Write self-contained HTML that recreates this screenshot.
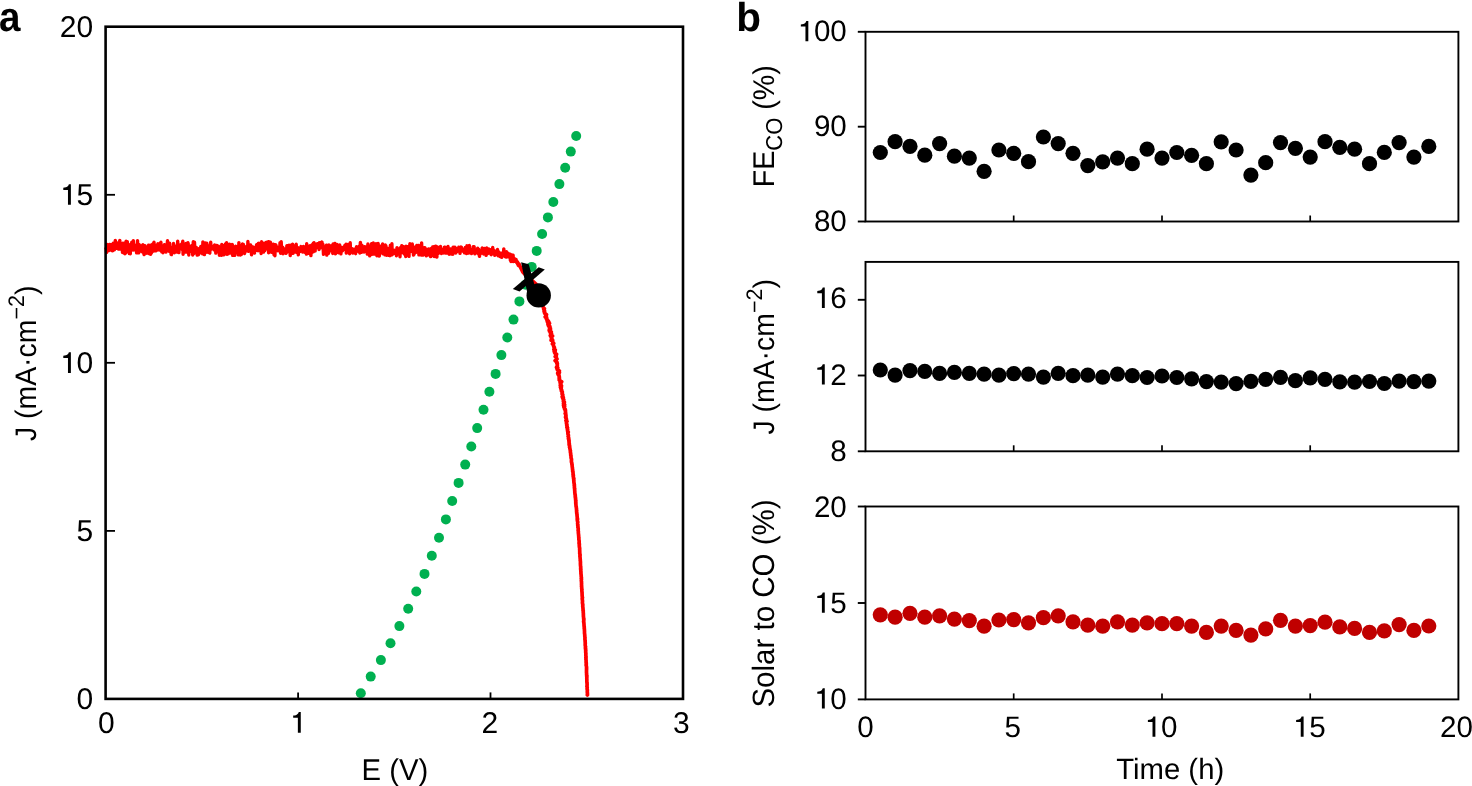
<!DOCTYPE html>
<html><head><meta charset="utf-8"><style>
html,body{margin:0;padding:0;background:#fff;width:1472px;height:786px;overflow:hidden}
svg{display:block;will-change:transform}
text{text-rendering:geometricPrecision}
.t{font-family:"Liberation Sans", sans-serif;font-size:30px;fill:#000}
.t2{font-family:"Liberation Sans", sans-serif;font-size:29px;fill:#000}
.lab{font-family:"Liberation Sans", sans-serif;font-size:42px;font-weight:bold;fill:#000}
</style></head><body>
<svg width="1472" height="786" viewBox="0 0 1472 786">
<rect width="1472" height="786" fill="#fff"/>
<polyline points="106.0,248.7 106.3,249.1 106.6,252.5 106.9,251.5 107.2,244.4 107.5,246.6 107.8,248.0 108.1,249.8 108.4,245.6 108.7,249.8 109.0,250.4 109.3,245.3 109.6,244.4 109.9,249.2 110.2,246.3 110.5,247.4 110.8,246.5 111.1,249.6 111.4,250.3 111.7,244.5 112.0,248.6 112.3,245.3 112.6,250.8 112.9,243.9 113.2,243.4 113.5,244.7 113.8,249.4 114.1,248.7 114.4,249.8 114.7,248.7 115.0,248.7 115.3,240.4 115.6,247.5 115.9,242.6 116.2,246.7 116.5,243.2 116.8,245.4 117.1,248.4 117.4,243.0 117.7,247.4 118.0,247.1 118.3,249.1 118.6,247.0 118.9,247.5 119.2,245.8 119.5,249.1 119.8,240.4 120.1,247.3 120.4,249.0 120.7,247.7 121.0,246.7 121.3,247.9 121.6,244.2 121.9,248.8 122.2,246.0 122.5,252.4 122.8,243.2 123.1,245.3 123.4,252.8 123.7,251.2 124.0,243.3 124.3,247.6 124.6,248.0 124.9,253.7 125.2,250.3 125.5,243.5 125.8,253.0 126.1,241.2 126.4,252.1 126.7,249.4 127.0,245.5 127.3,241.6 127.6,251.5 127.9,249.9 128.2,247.4 128.5,244.9 128.8,251.2 129.1,247.4 129.4,253.6 129.7,249.6 130.0,251.2 130.3,253.7 130.6,244.2 130.9,250.8 131.2,249.6 131.5,248.1 131.8,242.1 132.1,245.4 132.4,248.4 132.7,246.3 133.0,245.7 133.3,240.6 133.6,250.0 133.9,245.1 134.2,246.7 134.5,248.6 134.8,245.8 135.1,245.4 135.4,246.6 135.7,248.8 136.0,245.4 136.3,246.4 136.6,252.8 136.9,247.1 137.2,246.6 137.5,240.6 137.8,247.7 138.1,248.4 138.4,244.5 138.7,252.9 139.0,246.5 139.3,244.7 139.6,246.3 139.9,251.2 140.2,246.0 140.5,245.7 140.8,250.7 141.1,249.3 141.4,250.6 141.7,245.9 142.0,251.7 142.3,249.0 142.6,248.2 142.9,244.6 143.2,245.9 143.5,249.5 143.8,253.4 144.1,254.6 144.4,247.8 144.7,246.3 145.0,245.8 145.3,247.9 145.6,249.2 145.9,249.0 146.2,252.2 146.5,251.6 146.8,253.2 147.1,247.8 147.4,252.2 147.7,252.9 148.0,248.0 148.3,246.6 148.6,245.1 148.9,253.5 149.2,245.6 149.5,251.3 149.8,247.0 150.1,249.1 150.4,245.3 150.7,254.4 151.0,251.5 151.3,250.0 151.6,252.7 151.9,247.3 152.2,248.6 152.5,244.3 152.8,247.4 153.1,250.4 153.4,243.5 153.7,251.0 154.0,242.3 154.3,248.9 154.6,249.0 154.9,249.3 155.2,247.3 155.5,248.2 155.8,246.6 156.1,250.8 156.4,247.3 156.7,249.5 157.0,244.9 157.3,249.0 157.6,247.5 157.9,243.7 158.2,247.6 158.5,248.4 158.8,249.8 159.1,246.5 159.4,247.6 159.7,250.0 160.0,245.3 160.3,243.5 160.6,246.7 160.9,242.3 161.2,248.7 161.5,245.4 161.8,251.8 162.1,247.3 162.4,248.4 162.7,250.6 163.0,252.7 163.3,249.0 163.6,246.4 163.9,249.5 164.2,246.7 164.5,244.7 164.8,249.5 165.1,250.2 165.4,248.2 165.7,250.6 166.0,252.1 166.3,245.9 166.6,245.8 166.9,250.6 167.2,244.6 167.5,240.8 167.8,249.2 168.1,246.6 168.4,245.0 168.7,248.2 169.0,249.2 169.3,251.4 169.6,243.2 169.9,248.1 170.2,247.9 170.5,247.6 170.8,250.0 171.1,254.5 171.4,254.6 171.7,250.3 172.0,251.4 172.3,248.7 172.6,248.9 172.9,247.3 173.2,249.3 173.5,243.5 173.8,248.0 174.1,247.0 174.4,252.7 174.7,248.3 175.0,250.7 175.3,246.3 175.6,250.0 175.9,248.9 176.2,250.6 176.5,249.3 176.8,248.8 177.1,252.0 177.4,248.4 177.7,241.2 178.0,249.1 178.3,250.8 178.6,245.1 178.9,252.6 179.2,245.9 179.5,248.4 179.8,247.8 180.1,244.9 180.4,247.8 180.7,247.7 181.0,248.6 181.3,248.3 181.6,246.1 181.9,243.9 182.2,249.5 182.5,244.1 182.8,241.2 183.1,254.2 183.4,243.8 183.7,250.1 184.0,248.7 184.3,252.4 184.6,248.3 184.9,246.2 185.2,247.7 185.5,250.9 185.8,252.1 186.1,243.5 186.4,250.7 186.7,251.5 187.0,250.8 187.3,249.4 187.6,252.0 187.9,242.7 188.2,243.8 188.5,249.6 188.8,255.0 189.1,248.2 189.4,249.9 189.7,248.8 190.0,247.7 190.3,250.7 190.6,246.4 190.9,249.2 191.2,251.4 191.5,245.7 191.8,251.1 192.1,248.3 192.4,246.3 192.7,255.0 193.0,247.5 193.3,241.8 193.6,253.7 193.9,250.0 194.2,247.2 194.5,242.2 194.8,249.0 195.1,251.9 195.4,252.8 195.7,251.6 196.0,249.2 196.3,247.5 196.6,252.9 196.9,248.6 197.2,255.1 197.5,253.7 197.8,252.4 198.1,249.9 198.4,254.9 198.7,251.4 199.0,252.2 199.3,248.4 199.6,253.2 199.9,251.9 200.2,250.1 200.5,249.8 200.8,246.5 201.1,249.7 201.4,249.9 201.7,249.2 202.0,251.9 202.3,249.3 202.6,253.9 202.9,241.9 203.2,247.7 203.5,249.2 203.8,253.4 204.1,250.3 204.4,254.6 204.7,248.0 205.0,248.6 205.3,243.0 205.6,247.4 205.9,252.4 206.2,247.9 206.5,248.4 206.8,243.1 207.1,247.1 207.4,250.2 207.7,250.4 208.0,252.3 208.3,251.6 208.6,247.5 208.9,246.2 209.2,251.4 209.5,252.8 209.8,253.0 210.1,247.9 210.4,249.9 210.7,242.2 211.0,248.7 211.3,246.3 211.6,248.2 211.9,246.2 212.2,246.3 212.5,248.4 212.8,248.8 213.1,247.9 213.4,246.9 213.7,247.7 214.0,249.9 214.3,249.8 214.6,244.9 214.9,250.2 215.2,250.3 215.5,248.4 215.8,253.1 216.1,248.2 216.4,245.5 216.7,245.5 217.0,247.1 217.3,249.5 217.6,248.0 217.9,248.8 218.2,247.8 218.5,246.2 218.8,249.0 219.1,249.8 219.4,255.2 219.7,251.9 220.0,250.1 220.3,248.1 220.6,248.6 220.9,248.5 221.2,251.3 221.5,255.3 221.8,244.4 222.1,246.6 222.4,250.1 222.7,247.1 223.0,245.6 223.3,253.7 223.6,252.3 223.9,254.8 224.2,245.5 224.5,254.0 224.8,250.3 225.1,249.6 225.4,244.0 225.7,252.3 226.0,253.8 226.3,250.1 226.6,242.6 226.9,248.6 227.2,254.3 227.5,251.5 227.8,246.4 228.1,249.1 228.4,253.8 228.7,246.9 229.0,251.6 229.3,249.1 229.6,244.1 229.9,246.3 230.2,249.9 230.5,246.9 230.8,252.0 231.1,251.2 231.4,245.3 231.7,253.6 232.0,245.4 232.3,244.5 232.6,255.4 232.9,246.6 233.2,247.5 233.5,251.2 233.8,250.6 234.1,255.0 234.4,250.0 234.7,255.4 235.0,250.1 235.3,250.0 235.6,246.1 235.9,246.4 236.2,247.3 236.5,252.0 236.8,250.8 237.1,248.7 237.4,248.3 237.7,249.9 238.0,249.0 238.3,254.9 238.6,251.1 238.9,242.6 239.2,253.8 239.5,253.9 239.8,252.5 240.1,246.0 240.4,255.0 240.7,250.1 241.0,249.8 241.3,246.9 241.6,254.2 241.9,248.9 242.2,250.4 242.5,244.0 242.8,249.6 243.1,248.5 243.4,244.4 243.7,252.7 244.0,246.9 244.3,252.0 244.6,253.5 244.9,246.8 245.2,247.9 245.5,250.9 245.8,251.1 246.1,248.2 246.4,247.0 246.7,250.3 247.0,246.1 247.3,249.9 247.6,250.2 247.9,241.5 248.2,246.1 248.5,251.3 248.8,251.2 249.1,249.6 249.4,245.9 249.7,248.8 250.0,250.0 250.3,246.5 250.6,244.9 250.9,248.5 251.2,246.2 251.5,254.8 251.8,250.0 252.1,249.8 252.4,249.2 252.7,252.3 253.0,247.0 253.3,249.2 253.6,250.8 253.9,248.0 254.2,251.9 254.5,253.1 254.8,248.7 255.1,250.9 255.4,247.1 255.7,250.5 256.0,247.9 256.3,247.9 256.6,244.6 256.9,249.0 257.2,247.2 257.5,246.4 257.8,248.5 258.1,250.7 258.4,243.4 258.7,243.3 259.0,248.1 259.3,245.1 259.6,248.7 259.9,244.3 260.2,248.3 260.5,246.2 260.8,247.8 261.1,253.5 261.4,243.3 261.7,241.8 262.0,243.9 262.3,246.0 262.6,248.1 262.9,244.6 263.2,243.5 263.5,252.1 263.8,245.4 264.1,250.6 264.4,246.3 264.7,250.7 265.0,248.8 265.3,246.1 265.6,248.8 265.9,242.5 266.2,242.3 266.5,245.6 266.8,245.5 267.1,243.2 267.4,247.1 267.7,248.5 268.0,246.3 268.3,241.7 268.6,252.7 268.9,241.7 269.2,249.1 269.5,252.0 269.8,251.4 270.1,247.8 270.4,242.2 270.7,250.6 271.0,251.7 271.3,245.8 271.6,247.0 271.9,252.3 272.2,246.8 272.5,248.8 272.8,249.0 273.1,246.4 273.4,244.1 273.7,245.4 274.0,254.7 274.3,250.3 274.6,247.5 274.9,255.7 275.2,248.2 275.5,244.8 275.8,244.9 276.1,246.7 276.4,250.7 276.7,247.4 277.0,246.9 277.3,247.3 277.6,248.8 277.9,250.8 278.2,248.9 278.5,249.3 278.8,249.4 279.1,247.4 279.4,249.3 279.7,250.7 280.0,242.8 280.3,249.6 280.6,253.2 280.9,246.5 281.2,241.8 281.5,248.9 281.8,248.3 282.1,250.8 282.4,247.1 282.7,247.1 283.0,253.7 283.3,252.0 283.6,248.4 283.9,251.8 284.2,252.9 284.5,251.6 284.8,249.9 285.1,252.0 285.4,252.6 285.7,250.9 286.0,253.3 286.3,252.8 286.6,249.4 286.9,245.6 287.2,250.8 287.5,250.0 287.8,246.6 288.1,248.5 288.4,246.4 288.7,251.6 289.0,245.2 289.3,251.2 289.6,249.0 289.9,248.3 290.2,255.5 290.5,251.8 290.8,245.2 291.1,248.2 291.4,252.2 291.7,251.0 292.0,252.5 292.3,249.5 292.6,244.1 292.9,246.7 293.2,253.3 293.5,251.3 293.8,250.7 294.1,250.9 294.4,249.2 294.7,246.8 295.0,249.4 295.3,245.8 295.6,251.9 295.9,252.1 296.2,244.3 296.5,249.8 296.8,248.8 297.1,247.2 297.4,249.2 297.7,252.0 298.0,247.7 298.3,254.9 298.6,251.9 298.9,251.4 299.2,248.3 299.5,249.5 299.8,250.6 300.1,250.7 300.4,251.2 300.7,247.8 301.0,246.6 301.3,249.2 301.6,248.4 301.9,247.0 302.2,247.4 302.5,248.3 302.8,252.1 303.1,249.7 303.4,246.4 303.7,248.0 304.0,251.0 304.3,247.4 304.6,249.6 304.9,252.4 305.2,246.7 305.5,247.1 305.8,247.3 306.1,250.2 306.4,254.1 306.7,243.8 307.0,253.0 307.3,246.0 307.6,250.5 307.9,253.4 308.2,246.2 308.5,252.2 308.8,251.1 309.1,247.5 309.4,248.8 309.7,250.1 310.0,245.6 310.3,254.0 310.6,248.2 310.9,255.6 311.2,248.6 311.5,247.4 311.8,252.5 312.1,244.8 312.4,249.1 312.7,249.0 313.0,251.9 313.3,243.2 313.6,251.5 313.9,242.6 314.2,244.2 314.5,250.6 314.8,250.1 315.1,251.0 315.4,247.3 315.7,246.6 316.0,245.8 316.3,247.0 316.6,243.9 316.9,247.4 317.2,244.8 317.5,243.7 317.8,246.2 318.1,244.2 318.4,246.9 318.7,244.8 319.0,249.5 319.3,242.8 319.6,247.1 319.9,244.1 320.2,248.1 320.5,245.3 320.8,247.3 321.1,242.5 321.4,244.2 321.7,243.4 322.0,242.1 322.3,245.8 322.6,244.5 322.9,244.4 323.2,248.6 323.5,254.3 323.8,246.6 324.1,248.9 324.4,251.2 324.7,249.3 325.0,248.3 325.3,248.9 325.6,249.0 325.9,250.2 326.2,246.4 326.5,245.2 326.8,255.1 327.1,251.4 327.4,246.1 327.7,246.6 328.0,246.7 328.3,250.7 328.6,253.2 328.9,244.9 329.2,248.8 329.5,246.1 329.8,250.8 330.1,248.3 330.4,250.2 330.7,245.9 331.0,245.9 331.3,247.5 331.6,249.9 331.9,251.4 332.2,246.8 332.5,252.0 332.8,253.4 333.1,244.0 333.4,247.5 333.7,247.5 334.0,247.8 334.3,247.3 334.6,244.5 334.9,243.5 335.2,245.3 335.5,253.8 335.8,246.3 336.1,246.0 336.4,246.8 336.7,248.1 337.0,244.5 337.3,246.5 337.6,245.8 337.9,248.2 338.2,250.5 338.5,252.8 338.8,246.2 339.1,250.2 339.4,251.7 339.7,245.0 340.0,252.7 340.3,248.4 340.6,248.5 340.9,253.9 341.2,247.6 341.5,247.2 341.8,247.9 342.1,250.6 342.4,250.9 342.7,249.4 343.0,249.2 343.3,248.9 343.6,247.6 343.9,248.6 344.2,249.1 344.5,248.7 344.8,245.4 345.1,246.7 345.4,249.1 345.7,246.7 346.0,244.2 346.3,253.1 346.6,246.1 346.9,246.6 347.2,247.7 347.5,249.5 347.8,244.5 348.1,245.0 348.4,248.7 348.7,248.1 349.0,251.5 349.3,249.4 349.6,253.7 349.9,249.6 350.2,242.8 350.5,251.4 350.8,248.1 351.1,250.6 351.4,248.7 351.7,249.3 352.0,249.5 352.3,248.8 352.6,249.6 352.9,253.0 353.2,250.9 353.5,250.8 353.8,252.9 354.1,249.1 354.4,251.2 354.7,249.4 355.0,251.1 355.3,253.2 355.6,253.6 355.9,249.2 356.2,250.0 356.5,246.8 356.8,248.2 357.1,248.3 357.4,250.6 357.7,247.1 358.0,248.1 358.3,249.4 358.6,251.5 358.9,251.4 359.2,246.2 359.5,247.8 359.8,253.0 360.1,247.6 360.4,242.4 360.7,250.3 361.0,247.2 361.3,247.2 361.6,252.2 361.9,245.2 362.2,250.8 362.5,246.4 362.8,248.1 363.1,247.0 363.4,251.5 363.7,250.1 364.0,252.1 364.3,246.6 364.6,246.8 364.9,249.2 365.2,249.4 365.5,248.3 365.8,247.1 366.1,248.9 366.4,249.9 366.7,247.1 367.0,248.3 367.3,254.1 367.6,248.6 367.9,244.0 368.2,251.3 368.5,249.5 368.8,248.0 369.1,251.0 369.4,252.3 369.7,255.9 370.0,253.7 370.3,246.7 370.6,247.2 370.9,252.1 371.2,247.8 371.5,243.8 371.8,254.3 372.1,248.4 372.4,251.3 372.7,249.0 373.0,251.1 373.3,243.0 373.6,251.0 373.9,247.6 374.2,254.1 374.5,245.1 374.8,253.2 375.1,248.0 375.4,247.1 375.7,252.4 376.0,243.7 376.3,252.8 376.6,250.7 376.9,255.7 377.2,248.6 377.5,248.4 377.8,246.7 378.1,243.4 378.4,249.1 378.7,246.8 379.0,252.5 379.3,256.0 379.6,253.3 379.9,249.4 380.2,246.1 380.5,247.9 380.8,251.1 381.1,252.4 381.4,252.8 381.7,249.2 382.0,252.8 382.3,248.1 382.6,244.0 382.9,246.5 383.2,253.9 383.5,248.8 383.8,248.9 384.1,249.9 384.4,251.5 384.7,248.4 385.0,254.8 385.3,244.9 385.6,250.8 385.9,245.8 386.2,250.0 386.5,255.2 386.8,255.1 387.1,252.8 387.4,249.2 387.7,248.3 388.0,248.9 388.3,253.8 388.6,255.4 388.9,250.7 389.2,250.0 389.5,254.2 389.8,254.3 390.1,255.7 390.4,245.1 390.7,250.3 391.0,248.2 391.3,249.4 391.6,250.9 391.9,243.8 392.2,254.7 392.5,252.8 392.8,249.9 393.1,250.4 393.4,253.4 393.7,252.0 394.0,253.3 394.3,251.9 394.6,250.3 394.9,251.1 395.2,253.0 395.5,251.2 395.8,252.4 396.1,251.9 396.4,255.7 396.7,253.6 397.0,247.6 397.3,253.5 397.6,249.0 397.9,251.8 398.2,249.2 398.5,252.0 398.8,249.2 399.1,253.9 399.4,249.3 399.7,250.8 400.0,256.7 400.3,247.7 400.6,252.7 400.9,250.1 401.2,248.8 401.5,248.0 401.8,245.7 402.1,252.1 402.4,250.0 402.7,252.6 403.0,248.0 403.3,253.0 403.6,248.4 403.9,246.8 404.2,248.8 404.5,254.1 404.8,251.6 405.1,250.7 405.4,248.7 405.7,256.5 406.0,246.3 406.3,252.6 406.6,250.8 406.9,253.3 407.2,251.9 407.5,251.7 407.8,248.7 408.1,246.8 408.4,250.5 408.7,251.7 409.0,256.4 409.3,246.6 409.6,250.6 409.9,243.7 410.2,250.4 410.5,247.8 410.8,251.0 411.1,248.4 411.4,245.9 411.7,245.4 412.0,251.4 412.3,244.0 412.6,248.1 412.9,249.2 413.2,251.5 413.5,255.0 413.8,248.8 414.1,254.3 414.4,247.3 414.7,250.5 415.0,249.8 415.3,252.7 415.6,247.3 415.9,252.3 416.2,247.8 416.5,246.6 416.8,245.4 417.1,248.1 417.4,250.7 417.7,251.9 418.0,248.9 418.3,247.6 418.6,245.5 418.9,254.9 419.2,248.7 419.5,252.9 419.8,251.9 420.1,247.6 420.4,254.7 420.7,254.3 421.0,249.7 421.3,255.0 421.6,242.9 421.9,251.1 422.2,254.1 422.5,251.2 422.8,248.8 423.1,255.1 423.4,249.4 423.7,254.4 424.0,250.0 424.3,247.8 424.6,251.7 424.9,247.7 425.2,250.9 425.5,250.9 425.8,250.6 426.1,251.8 426.4,255.9 426.7,253.1 427.0,249.5 427.3,251.2 427.6,253.7 427.9,249.7 428.2,249.4 428.5,250.2 428.8,248.9 429.1,255.0 429.4,251.4 429.7,251.5 430.0,250.7 430.3,251.8 430.6,256.6 430.9,250.4 431.2,250.6 431.5,248.2 431.8,255.7 432.1,252.9 432.4,248.7 432.7,247.0 433.0,249.5 433.3,251.8 433.6,252.9 433.9,246.8 434.2,256.5 434.5,251.9 434.8,250.5 435.1,248.7 435.4,246.3 435.7,256.5 436.0,246.8 436.3,246.6 436.6,253.4 436.9,257.0 437.2,249.6 437.5,249.2 437.8,247.3 438.1,253.5 438.4,249.7 438.7,249.4 439.0,250.2 439.3,249.5 439.6,251.6 439.9,248.9 440.2,252.5 440.5,246.5 440.8,250.8 441.1,249.0 441.4,253.5 441.7,249.7 442.0,251.5 442.3,250.4 442.6,250.6 442.9,250.6 443.2,251.7 443.5,252.9 443.8,249.5 444.1,251.5 444.4,247.3 444.7,252.1 445.0,248.3 445.3,247.3 445.6,253.1 445.9,248.0 446.2,247.7 446.5,253.1 446.8,251.7 447.1,252.1 447.4,247.9 447.7,249.9 448.0,246.5 448.3,251.0 448.6,253.3 448.9,250.5 449.2,254.2 449.5,250.5 449.8,250.5 450.1,250.3 450.4,251.1 450.7,248.9 451.0,253.3 451.3,254.0 451.6,253.5 451.9,252.4 452.2,249.2 452.5,248.8 452.8,254.2 453.1,247.3 453.4,248.6 453.7,248.2 454.0,249.2 454.3,250.8 454.6,250.8 454.9,247.2 455.2,251.1 455.5,252.1 455.8,253.0 456.1,249.8 456.4,251.4 456.7,248.7 457.0,251.5 457.3,250.1 457.6,248.9 457.9,249.0 458.2,249.1 458.5,249.2 458.8,247.2 459.1,251.1 459.4,250.2 459.7,249.2 460.0,253.4 460.3,249.2 460.6,247.9 460.9,248.5 461.2,247.1 461.5,247.3 461.8,250.6 462.1,248.7 462.4,250.8 462.7,249.8 463.0,249.6 463.3,250.4 463.6,251.4 463.9,250.9 464.2,251.2 464.5,252.9 464.8,252.3 465.1,249.1 465.4,247.4 465.7,250.1 466.0,247.9 466.3,251.1 466.6,253.5 466.9,245.7 467.2,250.0 467.5,251.7 467.8,248.2 468.1,251.9 468.4,253.0 468.7,250.6 469.0,251.5 469.3,245.5 469.6,249.1 469.9,249.7 470.2,251.0 470.5,249.6 470.8,252.9 471.1,251.3 471.4,253.6 471.7,250.8 472.0,253.3 472.3,250.8 472.6,251.3 472.9,252.4 473.2,246.6 473.5,249.7 473.8,249.7 474.1,246.7 474.4,251.4 474.7,251.4 475.0,253.8 475.3,250.4 475.6,252.2 475.9,251.6 476.2,251.1 476.5,251.1 476.8,250.7 477.1,249.7 477.4,251.3 477.7,248.2 478.0,252.8 478.3,253.6 478.6,249.1 478.9,252.4 479.2,255.3 479.5,256.3 479.8,252.6 480.1,251.3 480.4,253.7 480.7,253.3 481.0,253.2 481.3,252.1 481.6,251.9 481.9,251.7 482.2,248.0 482.5,250.2 482.8,252.2 483.1,248.9 483.4,249.2 483.7,254.0 484.0,252.5 484.3,251.5 484.6,248.5 484.9,253.1 485.2,251.1 485.5,249.0 485.8,249.5 486.1,255.3 486.4,251.3 486.7,247.9 487.0,252.6 487.3,253.4 487.6,251.3 487.9,253.5 488.2,252.7 488.5,251.9 488.8,248.9 489.1,250.8 489.4,252.5 489.7,249.9 490.0,249.5 490.3,250.5 490.6,251.3 490.9,254.3 491.2,254.6 491.5,251.4 491.8,251.3 492.1,253.5 492.4,252.7 492.7,247.5 493.0,253.6 493.3,249.6 493.6,253.1 493.9,254.1 494.2,250.8 494.5,250.9 494.8,255.3 495.1,251.4 495.4,251.9 495.7,253.1 496.0,253.5 496.3,251.9 496.6,252.5 496.9,254.0 497.2,253.7 497.5,249.5 497.8,253.9 498.1,255.8 498.4,252.3 498.7,251.9 499.0,253.2 499.3,252.7 499.6,255.8 499.9,255.0 500.2,256.6 500.5,255.4 500.8,254.6 501.1,255.3 501.4,253.1 501.7,257.4 502.0,255.4 502.3,255.1 502.6,253.1 502.9,255.6 503.2,256.0 503.5,254.1 503.8,248.9 504.1,254.4 504.4,255.0 504.7,255.0 505.0,254.9 505.3,256.7 505.6,255.4 505.9,256.0 506.2,257.1 506.5,251.6 506.8,254.9 507.1,252.8 507.4,256.7 507.7,256.0 508.0,253.3 508.3,255.9 508.6,256.6 508.9,255.4 509.2,257.1 509.5,256.4 509.8,256.3 510.1,254.1 510.4,260.4 510.7,256.9 511.0,261.5 511.3,257.2 511.6,254.9 511.9,260.9 512.2,255.5 512.5,257.4 512.8,257.5 513.1,255.3 513.4,261.6 513.7,259.5 514.0,258.1 514.3,260.7 514.6,259.6 514.9,261.4 515.2,260.0 515.5,261.5 515.8,261.7 516.1,259.5 516.4,261.4 516.7,262.6 517.0,262.5 517.3,263.5 517.6,262.0 517.9,264.7 518.2,264.0 518.5,265.6 518.8,265.4 519.1,264.0 519.4,264.8" fill="none" stroke="#ff0000" stroke-width="3.4" stroke-linejoin="round" stroke-linecap="round"/>
<polyline points="519.6,265.5 522.8,272.0 527.0,276.5 531.0,279.5 536.0,284.2 539.5,293.0 541.5,302.0 543.5,308.0 544.4,308.5 543.7,309.1 543.8,309.7 544.5,310.3 544.5,310.9 544.1,311.5 544.7,312.1 544.5,312.7 544.7,313.3 545.5,313.9 546.5,314.5 545.9,315.1 546.3,315.7 546.1,316.3 545.2,316.9 546.6,317.5 546.2,318.1 546.4,318.7 546.5,319.3 547.5,319.9 547.2,320.5 548.4,321.1 547.3,321.7 548.9,322.3 547.8,322.9 549.5,323.5 548.3,324.1 548.0,324.7 549.1,325.3 548.6,325.9 549.9,326.5 550.0,327.1 549.4,327.7 550.4,328.3 549.9,328.9 550.4,329.5 549.2,330.1 549.6,330.7 549.5,331.3 551.3,331.9 550.4,332.5 550.4,333.1 551.5,333.7 551.2,334.3 550.6,334.9 550.3,335.5 552.6,336.1 551.8,336.7 551.1,337.3 551.4,337.9 551.7,338.5 551.9,339.1 552.5,339.7 551.1,340.3 552.8,340.9 552.7,341.5 552.8,342.1 553.1,342.7 553.7,343.3 552.4,343.9 553.1,344.5 553.4,345.1 553.6,345.7 553.6,346.3 553.9,346.9 554.4,347.5 554.4,348.1 554.3,348.7 553.9,349.3 555.3,349.9 554.8,350.5 554.2,351.1 555.1,351.7 554.5,352.3 554.8,352.9 555.2,353.5 556.6,354.1 555.7,354.7 556.1,355.3 556.3,355.9 555.2,356.5 556.3,357.1 556.3,357.7 556.5,358.3 557.0,358.9 556.0,359.5 556.2,360.1 555.1,360.7 555.9,361.3 556.7,361.9 557.1,362.5 556.8,363.1 557.4,363.7 557.2,364.3 557.3,364.9 557.3,365.5 557.4,366.1 556.8,366.7 556.5,367.3 557.8,367.9 556.9,368.5 557.1,369.1 557.3,369.7 558.1,370.3 559.4,370.9 558.3,371.5 558.6,372.1 559.4,372.7 557.7,373.3 558.9,373.9 558.1,374.5 558.9,375.1 558.9,375.7 559.3,376.3 559.2,376.9 559.4,377.5 559.1,378.1 559.5,378.7 559.5,379.3 559.2,379.9 560.0,380.5 560.3,381.1 561.7,381.7 560.1,382.3 560.5,382.9 560.3,383.5 561.0,384.1 560.8,384.7 560.3,385.3 561.5,385.9 560.6,386.5 560.4,387.1 561.3,387.7 560.8,388.3 561.0,388.9 561.4,389.5 561.7,390.1 561.3,390.7 561.7,391.3 562.3,391.9 562.1,392.5 562.4,393.1 562.0,393.7 562.1,394.3 562.8,394.9 562.6,395.5 562.8,396.1 562.2,396.7 563.3,397.3 562.6,397.9 562.8,398.5 563.3,399.1 563.8,399.7 563.7,400.3 563.3,400.9 563.4,401.5 564.4,402.1 564.1,402.7 563.5,403.3 564.0,403.9 564.6,404.5 563.5,405.1 563.8,405.7 564.6,406.3 563.8,406.9 564.4,407.5 564.5,408.1 564.4,408.7 565.3,409.3 565.0,409.9 565.5,410.5 565.4,411.1 565.5,411.7 565.6,412.3 565.6,412.9 565.2,413.5 565.8,414.1 565.7,414.7 566.0,415.3 565.8,415.9 566.0,416.5 565.5,417.1 565.7,417.7 566.3,418.3 566.3,418.9 566.5,419.5 566.1,420.1 565.9,420.7 567.0,421.3 566.6,421.9 566.4,422.5 566.4,423.1 566.7,423.7 566.6,424.3 567.0,424.9 566.7,425.5 566.9,426.1 567.2,426.7 566.9,427.3 567.6,427.9 567.3,428.5 567.3,429.1 567.7,429.7 567.5,430.3 567.6,430.9 567.7,431.5 568.3,432.1 567.8,432.7 568.0,433.3 567.9,433.9 568.2,434.5 568.4,435.1 568.4,435.7 568.1,436.3 568.4,436.9 568.6,437.5 568.7,438.1 568.4,438.7 568.9,439.3 568.8,439.9 569.1,440.5 568.9,441.1 569.1,441.7 569.1,442.3 569.0,442.9 569.3,443.5 569.3,444.1 569.1,444.7 569.5,445.3 569.6,445.9 569.7,446.5 569.5,447.1 569.8,447.7 569.8,448.3 570.0,448.9 570.1,449.5 570.2,450.1 570.4,450.7 570.4,451.3 570.3,451.9 570.5,452.5 570.6,453.1 570.7,453.7 570.7,454.3 570.7,454.9 571.0,455.5 571.0,456.1 571.0,456.7 571.0,457.3 571.1,457.9 571.2,458.5 571.5,459.1 571.5,459.7 571.4,460.3 571.5,460.9 571.4,461.5 571.5,462.1 571.7,462.7 571.9,463.3 571.8,463.9 572.1,464.5 572.1,465.1 572.1,465.7 572.2,466.3 572.2,466.9 572.4,467.5 572.4,468.1 572.5,468.7 572.5,469.3 572.7,469.9 572.7,470.5 572.6,471.1 573.0,471.7 573.0,472.3 573.0,472.9 573.1,473.5 573.1,474.1 573.0,474.7 573.4,475.3 573.3,475.9 573.2,476.5 573.4,477.1 573.6,477.7 573.5,478.3 573.9,478.9 573.7,479.5 573.7,480.1 573.9,480.7 573.9,481.3 573.8,481.9 574.0,482.5 574.0,483.1 574.2,483.7 574.2,484.3 574.4,484.9 574.2,485.5 574.4,486.1 574.4,486.7 574.4,487.3 574.4,487.9 574.7,488.5 574.7,489.1 574.6,489.7 574.7,490.3 574.7,490.9 574.8,491.5 574.8,492.1 574.8,492.7 574.9,493.3 575.0,493.9 575.0,494.5 575.3,495.1 575.2,495.7 575.2,496.3 575.4,496.9 575.3,497.5 575.6,498.1 575.5,498.7 575.6,499.3 575.6,499.9 575.9,500.5 575.7,501.1 575.8,501.7 575.9,502.3 575.7,502.9 575.9,503.5 575.9,504.1 575.9,504.7 576.0,505.3 576.0,505.9 576.1,506.5 576.3,507.1 576.3,507.7 576.4,508.3 576.5,508.9 576.5,509.5 576.5,510.1 576.7,510.7 576.6,511.3 576.6,511.9 576.8,512.5 576.7,513.1 576.9,513.7 576.9,514.3 577.1,514.9 577.0,515.5 577.1,516.1 577.2,516.7 577.2,517.3 577.3,517.9 577.2,518.5 577.6,519.1 577.2,519.7 577.4,520.3 577.4,520.9 577.6,521.5 577.8,522.1 577.7,522.7 577.6,523.3 577.7,523.9 577.9,524.5 577.7,525.1 577.9,525.7 578.0,526.3 577.9,526.9 577.9,527.5 578.2,528.1 578.2,528.7 578.2,529.3 578.2,529.9 578.1,530.5 578.3,531.1 578.4,531.7 578.3,532.3 578.4,532.9 578.4,533.5 578.5,534.1 578.6,534.7 578.6,535.3 578.7,535.9 578.7,536.5 578.7,537.1 578.9,537.7 578.9,538.3 578.8,538.9 578.9,539.5 579.0,540.1 579.1,540.7 579.2,541.3 579.1,541.9 579.2,542.5 579.0,543.1 579.3,543.7 579.4,544.3 579.2,544.9 579.3,545.5 579.4,546.1 579.3,546.7 579.5,547.3 579.6,547.9 579.7,548.5 579.6,549.1 579.7,549.7 579.7,550.3 579.7,550.9 579.7,551.5 579.8,552.1 579.7,552.7 579.7,553.3 579.9,553.9 580.1,554.5 579.9,555.1 580.1,555.7 579.9,556.3 580.0,556.9 580.1,557.5 580.1,558.1 580.2,558.7 580.2,559.3 580.3,559.9 580.2,560.5 580.4,561.1 580.4,561.7 580.4,562.3 580.5,562.9 580.4,563.5 580.4,564.1 580.5,564.7 580.5,565.3 580.5,565.9 580.7,566.5 580.7,567.1 580.7,567.7 580.8,568.3 580.6,568.9 580.9,569.5 580.8,570.1 580.8,570.7 580.8,571.3 581.0,571.9 580.9,572.5 581.0,573.1 580.9,573.7 581.1,574.3 581.1,574.9 581.2,575.5 581.2,576.1 581.2,576.7 581.4,577.3 581.4,577.9 581.2,578.5 581.5,579.1 581.4,579.7 581.3,580.3 581.3,580.9 581.5,581.5 581.5,582.1 581.5,582.7 581.6,583.3 581.5,583.9 581.5,584.5 581.6,585.1 581.6,585.7 581.5,586.3 581.7,586.9 581.7,587.5 581.7,588.1 581.7,588.7 582.0,589.3 581.9,589.9 581.8,590.5 581.9,591.1 581.9,591.7 582.1,592.3 582.0,592.9 582.1,593.5 582.1,594.1 582.1,594.7 582.1,595.3 582.2,595.9 582.2,596.5 582.3,597.1 582.5,597.7 582.2,598.3 582.2,598.9 582.3,599.5 582.4,600.1 582.5,600.7 582.5,601.3 582.5,601.9 582.4,602.5 582.5,603.1 582.5,603.7 582.8,604.3 582.8,604.9 582.8,605.5 582.7,606.1 582.8,606.7 582.9,607.3 582.9,607.9 583.0,608.5 583.0,609.1 583.1,609.7 583.0,610.3 583.3,610.9 583.2,611.5 583.2,612.1 583.3,612.7 583.4,613.3 583.3,613.9 583.4,614.5 583.4,615.1 583.4,615.7 583.4,616.3 583.5,616.9 583.6,617.5 583.6,618.1 583.7,618.7 583.9,619.3 583.7,619.9 583.8,620.5 583.8,621.1 583.6,621.7 583.8,622.3 583.9,622.9 583.9,623.5 584.0,624.1 584.0,624.7 584.0,625.3 584.1,625.9 584.1,626.5 584.3,627.1 584.2,627.7 584.2,628.3 584.4,628.9 584.4,629.5 584.4,630.1 584.5,630.7 584.5,631.3 584.5,631.9 584.5,632.5 584.5,633.1 584.6,633.7 584.7,634.3 584.7,634.9 584.8,635.5 584.8,636.1 584.8,636.7 585.0,637.3 585.0,637.9 584.9,638.5 585.0,639.1 584.9,639.7 585.1,640.3 585.2,640.9 585.1,641.5 585.2,642.1 585.2,642.7 585.3,643.3 585.2,643.9 585.2,644.5 585.2,645.1 585.3,645.7 585.4,646.3 585.6,646.9 585.4,647.5 585.4,648.1 585.5,648.7 585.7,649.3 585.6,649.9 585.8,650.5 585.7,651.1 585.7,651.7 585.7,652.3 585.8,652.9 585.9,653.5 585.9,654.1 585.8,654.7 585.8,655.3 585.9,655.9 586.0,656.5 586.1,657.1 585.8,657.7 586.0,658.3 586.0,658.9 585.9,659.5 586.1,660.1 586.1,660.7 586.1,661.3 586.1,661.9 586.1,662.5 586.3,663.1 586.2,663.7 586.3,664.3 586.1,664.9 586.2,665.5 586.4,666.1 586.5,666.7 586.5,667.3 586.6,667.9 586.5,668.5 586.6,669.1 586.5,669.7 586.5,670.3 586.5,670.9 586.5,671.5 586.5,672.1 586.5,672.7 586.6,673.3 586.6,673.9 586.6,674.5 586.6,675.1 586.9,675.7 586.7,676.3 586.9,676.9 586.8,677.5 586.8,678.1 586.8,678.7 586.8,679.3 586.9,679.9 586.8,680.5 586.9,681.1 586.8,681.7 586.9,682.3 587.1,682.9 587.0,683.5 587.1,684.1 587.1,684.7 587.1,685.3 587.0,685.9 586.9,686.5 587.2,687.1 587.2,687.7 587.1,688.3 587.1,688.9 587.2,689.5 587.4,690.1 587.3,690.7 587.3,691.3 587.3,691.9 587.3,692.5 587.5,693.1 587.4,693.7 587.5,694.3 587.3,694.9 587.4,695.0" fill="none" stroke="#ff0000" stroke-width="3.7" stroke-linejoin="round" stroke-linecap="round"/>
<circle cx="360.8" cy="693.2" r="5" fill="#00b050"/>
<circle cx="370.7" cy="676.6" r="5" fill="#00b050"/>
<circle cx="380.9" cy="660.1" r="5" fill="#00b050"/>
<circle cx="390.5" cy="643.3" r="5" fill="#00b050"/>
<circle cx="399.4" cy="626.1" r="5" fill="#00b050"/>
<circle cx="408.2" cy="608.8" r="5" fill="#00b050"/>
<circle cx="416.3" cy="591.5" r="5" fill="#00b050"/>
<circle cx="424.5" cy="573.9" r="5" fill="#00b050"/>
<circle cx="431.8" cy="555.8" r="5" fill="#00b050"/>
<circle cx="439.0" cy="537.7" r="5" fill="#00b050"/>
<circle cx="445.9" cy="519.4" r="5" fill="#00b050"/>
<circle cx="452.2" cy="501.0" r="5" fill="#00b050"/>
<circle cx="458.6" cy="482.9" r="5" fill="#00b050"/>
<circle cx="465.2" cy="464.6" r="5" fill="#00b050"/>
<circle cx="471.3" cy="446.5" r="5" fill="#00b050"/>
<circle cx="477.2" cy="428.1" r="5" fill="#00b050"/>
<circle cx="483.5" cy="409.7" r="5" fill="#00b050"/>
<circle cx="489.4" cy="391.8" r="5" fill="#00b050"/>
<circle cx="495.6" cy="373.9" r="5" fill="#00b050"/>
<circle cx="501.4" cy="355.1" r="5" fill="#00b050"/>
<circle cx="507.3" cy="337.5" r="5" fill="#00b050"/>
<circle cx="513.5" cy="319.6" r="5" fill="#00b050"/>
<circle cx="519.4" cy="301.4" r="5" fill="#00b050"/>
<circle cx="525.5" cy="284.8" r="5" fill="#00b050"/>
<circle cx="531.7" cy="266.9" r="5" fill="#00b050"/>
<circle cx="536.7" cy="250.9" r="5" fill="#00b050"/>
<circle cx="542.1" cy="234.0" r="5" fill="#00b050"/>
<circle cx="547.9" cy="217.4" r="5" fill="#00b050"/>
<circle cx="553.3" cy="202.0" r="5" fill="#00b050"/>
<circle cx="559.4" cy="184.1" r="5" fill="#00b050"/>
<circle cx="565.2" cy="167.8" r="5" fill="#00b050"/>
<circle cx="570.8" cy="151.6" r="5" fill="#00b050"/>
<circle cx="576.2" cy="136.0" r="5" fill="#00b050"/>
<polygon points="521.1,262.3 528.7,264.2 536.5,292 527.4,293.5" fill="#000"/>
<polygon points="538.7,267.3 544.8,269.5 519.5,291.6 512.8,289" fill="#000"/>
<circle cx="538.7" cy="295.4" r="12.2" fill="#000"/>
<rect x="105.6" y="26.7" width="577.4" height="672.2" fill="none" stroke="#000" stroke-width="2.6"/>
<line x1="298.1" y1="698.9" x2="298.1" y2="692.4" stroke="#000" stroke-width="1.8"/>
<line x1="490.5" y1="698.9" x2="490.5" y2="692.4" stroke="#000" stroke-width="1.8"/>
<line x1="105.6" y1="530.9" x2="115.0" y2="530.9" stroke="#000" stroke-width="1.8"/>
<line x1="105.6" y1="362.8" x2="115.0" y2="362.8" stroke="#000" stroke-width="1.8"/>
<line x1="105.6" y1="194.8" x2="115.0" y2="194.8" stroke="#000" stroke-width="1.8"/>
<text x="76.52" y="709.00" style="font-size:30.0px" class="t">0</text>
<text x="76.52" y="540.95" style="font-size:30.0px" class="t">5</text>
<path d="M271,0 L368,0 L368,687 L300,687 C292,650 262,600 205,585 C170,576 140,572 115,570 L115,497 L271,497 Z" transform="translate(59.84,372.90) scale(0.03000,-0.03000)" fill="#000"/><text x="76.52" y="372.90" style="font-size:30.0px" class="t">0</text>
<path d="M271,0 L368,0 L368,687 L300,687 C292,650 262,600 205,585 C170,576 140,572 115,570 L115,497 L271,497 Z" transform="translate(59.84,204.85) scale(0.03000,-0.03000)" fill="#000"/><text x="76.52" y="204.85" style="font-size:30.0px" class="t">5</text>
<text x="59.84" y="36.80" style="font-size:30.0px" class="t">2</text><text x="76.52" y="36.80" style="font-size:30.0px" class="t">0</text>
<text x="98.06" y="732.70" style="font-size:30.0px" class="t">0</text>
<path d="M271,0 L368,0 L368,687 L300,687 C292,650 262,600 205,585 C170,576 140,572 115,570 L115,497 L271,497 Z" transform="translate(289.73,732.70) scale(0.03000,-0.03000)" fill="#000"/>
<text x="481.39" y="732.70" style="font-size:30.0px" class="t">2</text>
<text x="673.06" y="732.70" style="font-size:30.0px" class="t">3</text>
<text transform="translate(394.9,779.6) scale(1,1.025)" text-anchor="middle" style="font-size:29.3px" class="t">E (V)</text>
<text transform="translate(36.3,363.3) rotate(-90) scale(1,1.045)" text-anchor="middle" style="font-size:28.4px" class="t">J (mA·cm<tspan dy="-12" style="font-size:21.5px">−2</tspan><tspan dy="12">)</tspan></text>
<text transform="translate(-1.1,31.1) scale(0.93,1)" style="font-size:41.5px" class="lab">a</text>
<circle cx="880.3" cy="152.5" r="7.6" fill="#000"/>
<circle cx="895.1" cy="141.7" r="7.6" fill="#000"/>
<circle cx="910.0" cy="146.4" r="7.6" fill="#000"/>
<circle cx="924.8" cy="155.2" r="7.6" fill="#000"/>
<circle cx="939.6" cy="143.6" r="7.6" fill="#000"/>
<circle cx="954.4" cy="156.2" r="7.6" fill="#000"/>
<circle cx="969.3" cy="158.1" r="7.6" fill="#000"/>
<circle cx="984.1" cy="171.3" r="7.6" fill="#000"/>
<circle cx="998.9" cy="150.0" r="7.6" fill="#000"/>
<circle cx="1013.7" cy="153.4" r="7.6" fill="#000"/>
<circle cx="1028.5" cy="161.7" r="7.6" fill="#000"/>
<circle cx="1043.4" cy="137.0" r="7.6" fill="#000"/>
<circle cx="1058.2" cy="143.6" r="7.6" fill="#000"/>
<circle cx="1073.0" cy="153.3" r="7.6" fill="#000"/>
<circle cx="1087.8" cy="165.6" r="7.6" fill="#000"/>
<circle cx="1102.7" cy="161.8" r="7.6" fill="#000"/>
<circle cx="1117.5" cy="158.1" r="7.6" fill="#000"/>
<circle cx="1132.3" cy="163.7" r="7.6" fill="#000"/>
<circle cx="1147.1" cy="149.2" r="7.6" fill="#000"/>
<circle cx="1162.0" cy="158.1" r="7.6" fill="#000"/>
<circle cx="1176.8" cy="152.5" r="7.6" fill="#000"/>
<circle cx="1191.6" cy="155.3" r="7.6" fill="#000"/>
<circle cx="1206.4" cy="163.7" r="7.6" fill="#000"/>
<circle cx="1221.2" cy="141.8" r="7.6" fill="#000"/>
<circle cx="1236.1" cy="150.0" r="7.6" fill="#000"/>
<circle cx="1250.9" cy="175.1" r="7.6" fill="#000"/>
<circle cx="1265.7" cy="162.7" r="7.6" fill="#000"/>
<circle cx="1280.5" cy="142.6" r="7.6" fill="#000"/>
<circle cx="1295.4" cy="148.3" r="7.6" fill="#000"/>
<circle cx="1310.2" cy="157.1" r="7.6" fill="#000"/>
<circle cx="1325.0" cy="141.7" r="7.6" fill="#000"/>
<circle cx="1339.8" cy="147.3" r="7.6" fill="#000"/>
<circle cx="1354.6" cy="149.2" r="7.6" fill="#000"/>
<circle cx="1369.5" cy="163.7" r="7.6" fill="#000"/>
<circle cx="1384.3" cy="152.4" r="7.6" fill="#000"/>
<circle cx="1399.1" cy="142.6" r="7.6" fill="#000"/>
<circle cx="1413.9" cy="157.1" r="7.6" fill="#000"/>
<circle cx="1428.8" cy="146.4" r="7.6" fill="#000"/>
<circle cx="880.3" cy="370.0" r="7.6" fill="#000"/>
<circle cx="895.1" cy="375.1" r="7.6" fill="#000"/>
<circle cx="910.0" cy="370.6" r="7.6" fill="#000"/>
<circle cx="924.8" cy="371.4" r="7.6" fill="#000"/>
<circle cx="939.6" cy="373.4" r="7.6" fill="#000"/>
<circle cx="954.4" cy="372.4" r="7.6" fill="#000"/>
<circle cx="969.3" cy="373.4" r="7.6" fill="#000"/>
<circle cx="984.1" cy="374.1" r="7.6" fill="#000"/>
<circle cx="998.9" cy="375.2" r="7.6" fill="#000"/>
<circle cx="1013.7" cy="373.6" r="7.6" fill="#000"/>
<circle cx="1028.5" cy="374.1" r="7.6" fill="#000"/>
<circle cx="1043.4" cy="377.1" r="7.6" fill="#000"/>
<circle cx="1058.2" cy="373.3" r="7.6" fill="#000"/>
<circle cx="1073.0" cy="375.7" r="7.6" fill="#000"/>
<circle cx="1087.8" cy="375.2" r="7.6" fill="#000"/>
<circle cx="1102.7" cy="377.1" r="7.6" fill="#000"/>
<circle cx="1117.5" cy="374.1" r="7.6" fill="#000"/>
<circle cx="1132.3" cy="375.7" r="7.6" fill="#000"/>
<circle cx="1147.1" cy="377.5" r="7.6" fill="#000"/>
<circle cx="1162.0" cy="376.0" r="7.6" fill="#000"/>
<circle cx="1176.8" cy="377.5" r="7.6" fill="#000"/>
<circle cx="1191.6" cy="378.8" r="7.6" fill="#000"/>
<circle cx="1206.4" cy="381.6" r="7.6" fill="#000"/>
<circle cx="1221.2" cy="382.1" r="7.6" fill="#000"/>
<circle cx="1236.1" cy="383.6" r="7.6" fill="#000"/>
<circle cx="1250.9" cy="381.3" r="7.6" fill="#000"/>
<circle cx="1265.7" cy="379.3" r="7.6" fill="#000"/>
<circle cx="1280.5" cy="377.4" r="7.6" fill="#000"/>
<circle cx="1295.4" cy="380.7" r="7.6" fill="#000"/>
<circle cx="1310.2" cy="377.8" r="7.6" fill="#000"/>
<circle cx="1325.0" cy="379.3" r="7.6" fill="#000"/>
<circle cx="1339.8" cy="381.8" r="7.6" fill="#000"/>
<circle cx="1354.6" cy="382.1" r="7.6" fill="#000"/>
<circle cx="1369.5" cy="381.5" r="7.6" fill="#000"/>
<circle cx="1384.3" cy="383.5" r="7.6" fill="#000"/>
<circle cx="1399.1" cy="381.1" r="7.6" fill="#000"/>
<circle cx="1413.9" cy="381.6" r="7.6" fill="#000"/>
<circle cx="1428.8" cy="381.1" r="7.6" fill="#000"/>
<circle cx="880.3" cy="614.8" r="7.6" fill="#c00000"/>
<circle cx="895.1" cy="617.2" r="7.6" fill="#c00000"/>
<circle cx="910.0" cy="613.3" r="7.6" fill="#c00000"/>
<circle cx="924.8" cy="617.2" r="7.6" fill="#c00000"/>
<circle cx="939.6" cy="615.8" r="7.6" fill="#c00000"/>
<circle cx="954.4" cy="619.1" r="7.6" fill="#c00000"/>
<circle cx="969.3" cy="620.6" r="7.6" fill="#c00000"/>
<circle cx="984.1" cy="626.2" r="7.6" fill="#c00000"/>
<circle cx="998.9" cy="620.0" r="7.6" fill="#c00000"/>
<circle cx="1013.7" cy="619.6" r="7.6" fill="#c00000"/>
<circle cx="1028.5" cy="622.8" r="7.6" fill="#c00000"/>
<circle cx="1043.4" cy="617.7" r="7.6" fill="#c00000"/>
<circle cx="1058.2" cy="615.8" r="7.6" fill="#c00000"/>
<circle cx="1073.0" cy="621.8" r="7.6" fill="#c00000"/>
<circle cx="1087.8" cy="625.2" r="7.6" fill="#c00000"/>
<circle cx="1102.7" cy="626.2" r="7.6" fill="#c00000"/>
<circle cx="1117.5" cy="621.8" r="7.6" fill="#c00000"/>
<circle cx="1132.3" cy="625.1" r="7.6" fill="#c00000"/>
<circle cx="1147.1" cy="622.8" r="7.6" fill="#c00000"/>
<circle cx="1162.0" cy="623.7" r="7.6" fill="#c00000"/>
<circle cx="1176.8" cy="623.6" r="7.6" fill="#c00000"/>
<circle cx="1191.6" cy="626.1" r="7.6" fill="#c00000"/>
<circle cx="1206.4" cy="632.4" r="7.6" fill="#c00000"/>
<circle cx="1221.2" cy="626.1" r="7.6" fill="#c00000"/>
<circle cx="1236.1" cy="630.4" r="7.6" fill="#c00000"/>
<circle cx="1250.9" cy="635.1" r="7.6" fill="#c00000"/>
<circle cx="1265.7" cy="628.9" r="7.6" fill="#c00000"/>
<circle cx="1280.5" cy="620.3" r="7.6" fill="#c00000"/>
<circle cx="1295.4" cy="626.1" r="7.6" fill="#c00000"/>
<circle cx="1310.2" cy="625.6" r="7.6" fill="#c00000"/>
<circle cx="1325.0" cy="622.2" r="7.6" fill="#c00000"/>
<circle cx="1339.8" cy="626.9" r="7.6" fill="#c00000"/>
<circle cx="1354.6" cy="628.4" r="7.6" fill="#c00000"/>
<circle cx="1369.5" cy="632.4" r="7.6" fill="#c00000"/>
<circle cx="1384.3" cy="630.9" r="7.6" fill="#c00000"/>
<circle cx="1399.1" cy="624.6" r="7.6" fill="#c00000"/>
<circle cx="1413.9" cy="630.4" r="7.6" fill="#c00000"/>
<circle cx="1428.8" cy="626.0" r="7.6" fill="#c00000"/>
<rect x="865.5" y="31.8" width="592.9" height="189.7" fill="none" stroke="#000" stroke-width="1.9"/>
<line x1="857.8" y1="221.5" x2="865.5" y2="221.5" stroke="#000" stroke-width="1.9"/>
<text x="813.88" y="230.50" style="font-size:29.6px" class="t">8</text><text x="830.34" y="230.50" style="font-size:29.6px" class="t">0</text>
<line x1="857.8" y1="126.7" x2="865.5" y2="126.7" stroke="#000" stroke-width="1.9"/>
<text x="813.88" y="135.60" style="font-size:29.6px" class="t">9</text><text x="830.34" y="135.60" style="font-size:29.6px" class="t">0</text>
<line x1="857.8" y1="31.8" x2="865.5" y2="31.8" stroke="#000" stroke-width="1.9"/>
<path d="M271,0 L368,0 L368,687 L300,687 C292,650 262,600 205,585 C170,576 140,572 115,570 L115,497 L271,497 Z" transform="translate(797.43,41.30) scale(0.02960,-0.02960)" fill="#000"/><text x="813.88" y="41.30" style="font-size:29.6px" class="t">0</text><text x="830.34" y="41.30" style="font-size:29.6px" class="t">0</text>
<line x1="1013.7" y1="221.5" x2="1013.7" y2="215.5" stroke="#000" stroke-width="1.7"/>
<line x1="1162.0" y1="221.5" x2="1162.0" y2="215.5" stroke="#000" stroke-width="1.7"/>
<line x1="1310.2" y1="221.5" x2="1310.2" y2="215.5" stroke="#000" stroke-width="1.7"/>
<rect x="865.5" y="261.9" width="592.9" height="189.4" fill="none" stroke="#000" stroke-width="1.9"/>
<line x1="857.8" y1="451.3" x2="865.5" y2="451.3" stroke="#000" stroke-width="1.9"/>
<text x="830.34" y="460.50" style="font-size:29.6px" class="t">8</text>
<line x1="857.8" y1="375.5" x2="865.5" y2="375.5" stroke="#000" stroke-width="1.9"/>
<path d="M271,0 L368,0 L368,687 L300,687 C292,650 262,600 205,585 C170,576 140,572 115,570 L115,497 L271,497 Z" transform="translate(813.88,384.50) scale(0.02960,-0.02960)" fill="#000"/><text x="830.34" y="384.50" style="font-size:29.6px" class="t">2</text>
<line x1="857.8" y1="299.8" x2="865.5" y2="299.8" stroke="#000" stroke-width="1.9"/>
<path d="M271,0 L368,0 L368,687 L300,687 C292,650 262,600 205,585 C170,576 140,572 115,570 L115,497 L271,497 Z" transform="translate(813.88,307.90) scale(0.02960,-0.02960)" fill="#000"/><text x="830.34" y="307.90" style="font-size:29.6px" class="t">6</text>
<line x1="1013.7" y1="451.3" x2="1013.7" y2="445.3" stroke="#000" stroke-width="1.7"/>
<line x1="1162.0" y1="451.3" x2="1162.0" y2="445.3" stroke="#000" stroke-width="1.7"/>
<line x1="1310.2" y1="451.3" x2="1310.2" y2="445.3" stroke="#000" stroke-width="1.7"/>
<rect x="865.5" y="506.5" width="592.9" height="192.9" fill="none" stroke="#000" stroke-width="1.9"/>
<line x1="857.8" y1="699.4" x2="865.5" y2="699.4" stroke="#000" stroke-width="1.9"/>
<path d="M271,0 L368,0 L368,687 L300,687 C292,650 262,600 205,585 C170,576 140,572 115,570 L115,497 L271,497 Z" transform="translate(813.88,708.50) scale(0.02960,-0.02960)" fill="#000"/><text x="830.34" y="708.50" style="font-size:29.6px" class="t">0</text>
<line x1="857.8" y1="603.0" x2="865.5" y2="603.0" stroke="#000" stroke-width="1.9"/>
<path d="M271,0 L368,0 L368,687 L300,687 C292,650 262,600 205,585 C170,576 140,572 115,570 L115,497 L271,497 Z" transform="translate(813.88,612.80) scale(0.02960,-0.02960)" fill="#000"/><text x="830.34" y="612.80" style="font-size:29.6px" class="t">5</text>
<line x1="857.8" y1="506.5" x2="865.5" y2="506.5" stroke="#000" stroke-width="1.9"/>
<text x="813.88" y="516.90" style="font-size:29.6px" class="t">2</text><text x="830.34" y="516.90" style="font-size:29.6px" class="t">0</text>
<line x1="1013.7" y1="699.4" x2="1013.7" y2="693.4" stroke="#000" stroke-width="1.7"/>
<line x1="1162.0" y1="699.4" x2="1162.0" y2="693.4" stroke="#000" stroke-width="1.7"/>
<line x1="1310.2" y1="699.4" x2="1310.2" y2="693.4" stroke="#000" stroke-width="1.7"/>
<text x="857.27" y="736.80" style="font-size:29.6px" class="t">0</text>
<text x="1004.50" y="736.80" style="font-size:29.6px" class="t">5</text>
<path d="M271,0 L368,0 L368,687 L300,687 C292,650 262,600 205,585 C170,576 140,572 115,570 L115,497 L271,497 Z" transform="translate(1144.49,736.80) scale(0.02960,-0.02960)" fill="#000"/><text x="1160.95" y="736.80" style="font-size:29.6px" class="t">0</text>
<path d="M271,0 L368,0 L368,687 L300,687 C292,650 262,600 205,585 C170,576 140,572 115,570 L115,497 L271,497 Z" transform="translate(1292.72,736.80) scale(0.02960,-0.02960)" fill="#000"/><text x="1309.18" y="736.80" style="font-size:29.6px" class="t">5</text>
<text x="1439.94" y="736.80" style="font-size:29.6px" class="t">2</text><text x="1456.40" y="736.80" style="font-size:29.6px" class="t">0</text>
<text transform="translate(1170.2,779.4)" text-anchor="middle" style="font-size:29.3px" class="t">Time (h)</text>
<text transform="translate(773.6,126.2) rotate(-90) scale(1,1.045)" text-anchor="middle" style="font-size:28.7px" class="t">FE<tspan dy="8" style="font-size:22px">CO</tspan><tspan dy="-8"> (%)</tspan></text>
<text transform="translate(774.4,356.8) rotate(-90) scale(1,1.045)" text-anchor="middle" style="font-size:28.4px" class="t">J (mA·cm<tspan dy="-12" style="font-size:21.5px">−2</tspan><tspan dy="12">)</tspan></text>
<text transform="translate(774.4,603.5) rotate(-90) scale(1,1.045)" text-anchor="middle" style="font-size:29.5px" class="t">Solar to CO (%)</text>
<text transform="translate(736.2,31.0)" style="font-size:40.5px" class="lab">b</text>
</svg>
</body></html>
